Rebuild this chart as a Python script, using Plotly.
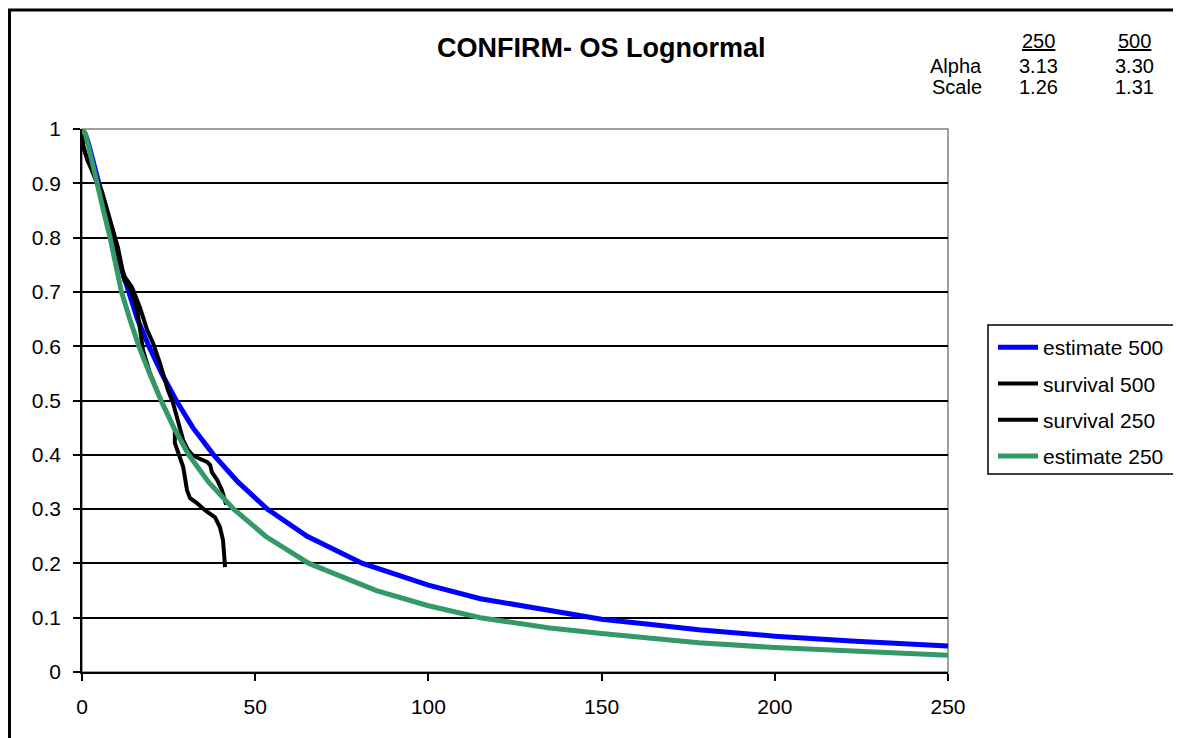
import plotly.graph_objects as go

# ---- data ----
est500_x = [0, 1, 2, 3, 5, 7, 9, 11, 13.5, 16, 19.3, 23, 27.2, 32, 38, 45, 53.5, 65, 81, 100, 115, 135, 150, 165, 178, 200, 222, 250]
est500_y = [1.0, 0.99, 0.97, 0.945, 0.90, 0.845, 0.80, 0.75, 0.70, 0.65, 0.60, 0.55, 0.50, 0.45, 0.40, 0.35, 0.30, 0.25, 0.20, 0.16, 0.135, 0.113, 0.097, 0.087, 0.078, 0.066, 0.057, 0.048]

est250_x = [0, 1, 2, 3, 4.4, 6, 8.1, 9.5, 11.4, 13.8, 16.4, 19.5, 22.8, 26.5, 30.8, 36.5, 43.8, 53, 65.5, 85, 100, 115, 135, 150, 165, 178, 200, 222, 250]
est250_y = [1.0, 0.99, 0.965, 0.935, 0.90, 0.855, 0.80, 0.76, 0.70, 0.65, 0.60, 0.55, 0.50, 0.45, 0.40, 0.35, 0.30, 0.25, 0.20, 0.15, 0.122, 0.10, 0.081, 0.071, 0.062, 0.054, 0.045, 0.038, 0.031]

surv500_x = [0, 0.3, 1.7, 3.8, 5.8, 7.5, 8.9, 10.4, 11.8, 12.4, 14.4, 16.7, 18.8, 20.5, 22.5, 24.0, 24.8, 26.3, 27.4, 28.3, 29.2, 30.6, 31.8, 33.5, 36.1, 37.0, 37.5, 39.0, 40.4, 41.6]
surv500_y = [1.0, 0.97, 0.94, 0.915, 0.884, 0.847, 0.818, 0.781, 0.737, 0.727, 0.709, 0.672, 0.630, 0.606, 0.569, 0.532, 0.519, 0.495, 0.470, 0.451, 0.427, 0.409, 0.400, 0.394, 0.387, 0.381, 0.368, 0.354, 0.335, 0.308]

surv250_x = [0, 0.4, 1.5, 3.6, 5.6, 7.3, 8.8, 10.2, 11.6, 12.2, 14.2, 16.0, 17.6, 19.6, 22.5, 24.5, 26.8, 26.8, 28.3, 29.2, 29.7, 30.3, 31.2, 33.2, 35.5, 38.4, 39.8, 40.7, 41.0, 41.3]
surv250_y = [1.0, 0.965, 0.945, 0.91, 0.88, 0.845, 0.815, 0.778, 0.735, 0.722, 0.703, 0.665, 0.593, 0.551, 0.506, 0.480, 0.446, 0.422, 0.396, 0.378, 0.359, 0.335, 0.320, 0.311, 0.298, 0.285, 0.267, 0.243, 0.219, 0.193]

x_ticks = [0, 50, 100, 150, 200, 250]
y_ticks = [0, 0.1, 0.2, 0.3, 0.4, 0.5, 0.6, 0.7, 0.8, 0.9, 1]

title_text = "CONFIRM- OS Lognormal"
table_cols = ["250", "500"]
table_rows = ["Alpha", "Scale"]
table_vals = [["3.13", "3.30"], ["1.26", "1.31"]]

FONT = "Liberation Sans, Arial, sans-serif"
GREEN = "#339966"

fig = go.Figure()
fig.add_trace(go.Scatter(x=est500_x, y=est500_y, mode="lines", name="estimate 500",
                         line=dict(color="#0000FF", width=5), legendgroup="a"))
fig.add_trace(go.Scatter(x=surv500_x, y=surv500_y, mode="lines", name="survival 500",
                         line=dict(color="#000000", width=4), legendgroup="b"))
fig.add_trace(go.Scatter(x=surv250_x, y=surv250_y, mode="lines", name="survival 250",
                         line=dict(color="#000000", width=4), legendgroup="c"))
fig.add_trace(go.Scatter(x=est250_x, y=est250_y, mode="lines", name="estimate 250",
                         line=dict(color=GREEN, width=5), legendgroup="d"))

OFF = 8  # page body margin
W, H = 1181, 738
L, R, T, B = 82, 948, 129, 672  # plot area in page pixels


def px(xp):
    return (xp - L) / (R - L)


def py(yp):
    return (B - yp) / (B - T)


annotations = [
    dict(text="<b>%s</b>" % title_text, x=px(601), y=py(48), xref="paper", yref="paper",
         showarrow=False, xanchor="center", yanchor="middle", font=dict(size=27, family=FONT, color="black")),
]
col_x = [1038, 1134]
row_y = [66, 87]
for cx, c in zip(col_x, table_cols):
    annotations.append(dict(text="<u>%s</u>" % c, x=px(cx), y=py(41), xref="paper", yref="paper",
                            showarrow=False, xanchor="center", yanchor="middle",
                            font=dict(size=20, family=FONT, color="black")))
for ry, rname, vals in zip(row_y, table_rows, table_vals):
    annotations.append(dict(text=rname, x=px(984), y=py(ry), xref="paper", yref="paper",
                            showarrow=False, xanchor="right", yanchor="middle",
                            font=dict(size=20, family=FONT, color="black")))
    for cx, v in zip(col_x, vals):
        annotations.append(dict(text=v, x=px(cx), y=py(ry), xref="paper", yref="paper",
                                showarrow=False, xanchor="center", yanchor="middle",
                                font=dict(size=20, family=FONT, color="black")))

shapes = [
    # plot area border (gray)
    dict(type="rect", xref="paper", yref="paper", x0=0, x1=1, y0=0, y1=1,
         line=dict(color="#808080", width=1.5), layer="between"),
    # outer chart border
    dict(type="rect", xref="paper", yref="paper", x0=px(9.5), x1=px(1220), y0=py(780), y1=py(10),
         line=dict(color="black", width=3), layer="above"),
    # legend frame (extends past the right edge as in the reference)
    dict(type="rect", xref="paper", yref="paper", x0=px(988), x1=px(1220), y0=py(474), y1=py(325),
         line=dict(color="black", width=1.5), layer="above"),
]

fig.update_layout(
    width=W, height=H,
    margin=dict(l=L - OFF, r=W - (R - OFF), t=T - OFF, b=H - (B - OFF), autoexpand=False),
    paper_bgcolor="white", plot_bgcolor="white",
    font=dict(family=FONT, size=21, color="black"),
    showlegend=True,
    legend=dict(x=px(993), y=py(327), xanchor="left", yanchor="top",
                borderwidth=0, bgcolor="rgba(0,0,0,0)",
                font=dict(size=21, family=FONT, color="black"),
                tracegroupgap=6, traceorder="grouped", itemwidth=40),
    annotations=annotations,
    shapes=shapes,
    xaxis=dict(range=[0, 250], tickvals=x_ticks, ticktext=[str(v) for v in x_ticks],
               showgrid=False, zeroline=False, showline=True, linecolor="black", linewidth=1.5,
               ticks="outside", ticklen=7, tickcolor="black", tickwidth=1.5,
               tickfont=dict(size=21, family=FONT, color="black"), ticklabelstandoff=8),
    yaxis=dict(range=[0, 1], tickvals=y_ticks, ticktext=[("%g" % v) for v in y_ticks],
               showgrid=True, gridcolor="black", gridwidth=1.5, zeroline=False,
               showline=True, linecolor="black", linewidth=1.5,
               ticks="outside", ticklen=7, tickcolor="black", tickwidth=1.5,
               tickfont=dict(size=21, family=FONT, color="black"), ticklabelstandoff=8),
)

fig.write_html("out.html")
